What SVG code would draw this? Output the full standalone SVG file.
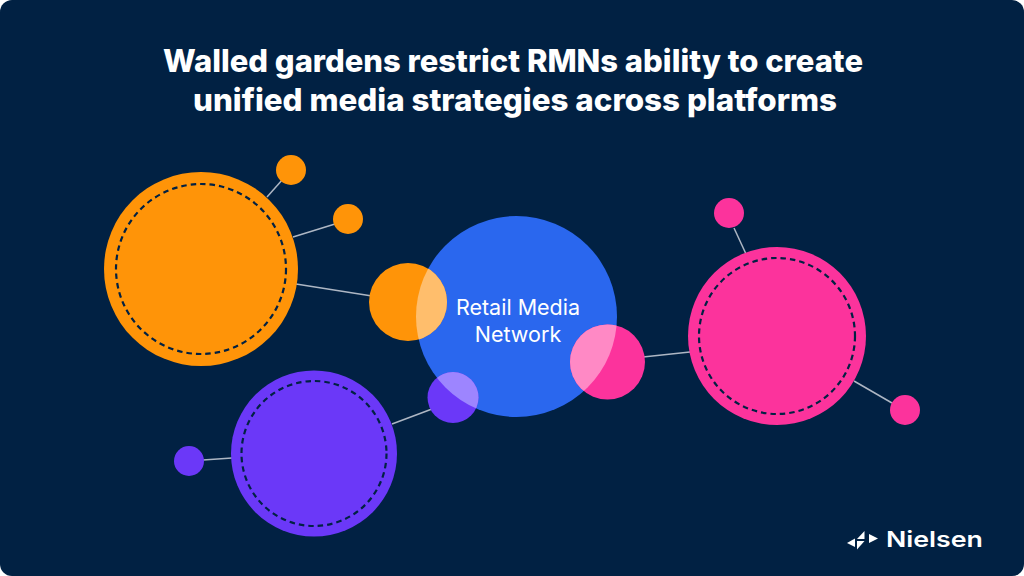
<svg xmlns="http://www.w3.org/2000/svg" width="1024" height="576" viewBox="0 0 1024 576">
  <style>
    .conn { stroke: #AEB7C4; stroke-width: 1.5; fill: none; }
    .dash { fill: none; stroke: #012143; stroke-width: 2.2; stroke-dasharray: 5.5 4; }
    .orange { fill: #FF9408; }
    .blue { fill: #2A67EE; }
    .pink { fill: #FC339C; }
    .purple { fill: #6B38F8; }
    .title { font-family: Inter, "Liberation Sans", sans-serif; font-weight: 800; font-size: 31.5px; fill: #FFFFFF; text-anchor: middle; }
    .label { font-family: Inter, "Liberation Sans", sans-serif; font-weight: 400; font-size: 21.5px; fill: #FFFFFF; text-anchor: middle; }
    .brand { font-family: Inter, "Liberation Sans", sans-serif; font-weight: 600; font-size: 22px; fill: #FFFFFF; }
  </style>
  <defs>
    <clipPath id="blueClip">
      <circle cx="516.5" cy="316.5" r="100.5"/>
    </clipPath>
  </defs>

  <rect x="0" y="0" width="1024" height="576" rx="12" ry="12" fill="#012143"/>

  <g id="title">
    <text class="title" x="513" y="72" textLength="700" lengthAdjust="spacingAndGlyphs">Walled gardens restrict RMNs ability to create</text>
    <text class="title" x="515" y="111" textLength="644" lengthAdjust="spacingAndGlyphs">unified media strategies across platforms</text>
  </g>

  <g id="connectors">
    <line class="conn" x1="267" y1="197" x2="283" y2="179"/>
    <line class="conn" x1="293" y1="237" x2="335" y2="224"/>
    <line class="conn" x1="296" y1="284" x2="372" y2="296"/>
    <line class="conn" x1="734" y1="228" x2="746" y2="254"/>
    <line class="conn" x1="854" y1="381" x2="892" y2="403"/>
    <line class="conn" x1="643" y1="357" x2="690" y2="352"/>
    <line class="conn" x1="392" y1="424" x2="432" y2="409"/>
    <line class="conn" x1="203" y1="460" x2="232" y2="458"/>
  </g>

  <g id="rmn">
    <circle class="blue" cx="516.5" cy="316.5" r="100.5"/>
  </g>

  <g id="orange-hub">
    <circle class="orange" cx="201" cy="269" r="97"/>
    <circle class="dash" cx="201" cy="269" r="85"/>
  </g>
  <g id="orange-sat-1"><circle class="orange" cx="291" cy="170" r="15"/></g>
  <g id="orange-sat-2"><circle class="orange" cx="348" cy="219" r="15"/></g>
  <g id="orange-link">
    <circle class="orange" cx="408" cy="302" r="39"/>
    <circle cx="408" cy="302" r="39" fill="#FFBE6C" clip-path="url(#blueClip)"/>
  </g>

  <g id="pink-hub">
    <circle class="pink" cx="777" cy="336" r="89"/>
    <circle class="dash" cx="777" cy="336" r="78"/>
  </g>
  <g id="pink-sat-1"><circle class="pink" cx="729" cy="213" r="15"/></g>
  <g id="pink-sat-2"><circle class="pink" cx="905" cy="410" r="15"/></g>
  <g id="pink-link">
    <circle class="pink" cx="607.5" cy="362" r="37.5"/>
    <circle cx="607.5" cy="362" r="37.5" fill="#FF89C5" clip-path="url(#blueClip)"/>
  </g>

  <g id="purple-hub">
    <circle class="purple" cx="314" cy="453.5" r="83"/>
    <circle class="dash" cx="314" cy="453.5" r="72.5"/>
  </g>
  <g id="purple-sat-1"><circle class="purple" cx="189" cy="461" r="15"/></g>
  <g id="purple-link">
    <circle class="purple" cx="453" cy="397.5" r="25.5"/>
    <circle cx="453" cy="397.5" r="25.5" fill="#9D85FF" clip-path="url(#blueClip)"/>
  </g>

  <g id="rmn-label">
    <text class="label" x="518" y="315">Retail Media</text>
    <text class="label" x="518" y="342">Network</text>
  </g>

  <g id="logo">
    <polygon points="847,543 855,538.5 855,547" fill="#FFFFFF"/>
    <polygon points="857,539 864.5,531 864.5,539" fill="#FFFFFF"/>
    <polygon points="857,541 864.5,541 857,549.5" fill="#FFFFFF"/>
    <polygon points="869,534 878,538.5 869,543" fill="#FFFFFF"/>
    <text class="brand" x="886" y="547" textLength="97" lengthAdjust="spacingAndGlyphs">Nielsen</text>
  </g>
</svg>
